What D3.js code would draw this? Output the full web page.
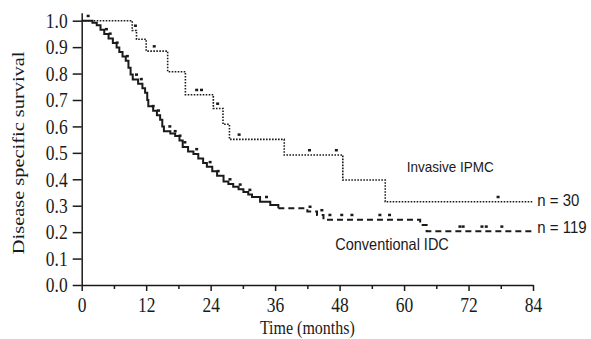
<!DOCTYPE html>
<html>
<head>
<meta charset="utf-8">
<script src="https://cdn.jsdelivr.net/npm/d3@7/dist/d3.min.js"></script>
<style>
  body { margin: 0; background: #fff; }
  svg { display: block; }
</style>
</head>
<body>
<script>
// Invasive IPMC (n = 30): step times (months) and survival after each step
const ipmcTime = [0, 9.4, 10.2, 12.0, 16.0, 19.3, 24.5, 26.3, 27.5, 37.7, 48.6, 56.5, 84];
const ipmcSurv = [1.0, 0.963, 0.930, 0.885, 0.807, 0.720, 0.668, 0.608, 0.551, 0.492, 0.397, 0.315, 0.315];
const ipmcCensor = [10.0, 13.5, 21.4, 22.3, 25.3, 29.3, 42.4, 47.4, 77.5];

// Conventional IDC (n = 119)
const idcTime = [0, 2.0, 2.8, 3.5, 4.2, 5.0, 5.8, 6.5, 7.0, 7.6, 8.2, 8.7, 9.1, 9.5, 10.5, 11.3, 11.8,
  12.2, 12.4, 13.3, 14.0, 14.6, 15.0, 15.3, 16.5, 17.4, 18.2, 18.8, 19.8, 20.8, 21.7, 22.6, 23.3,
  24.3, 25.2, 26.4, 27.3, 28.2, 29.2, 30.1, 31.0, 31.7, 33.2, 35.1, 36.6, 42.0, 43.8, 45.0, 63.0, 64.2, 84];
const idcSurv = [1.0, 0.992, 0.983, 0.966, 0.950, 0.933, 0.916, 0.899, 0.882, 0.865, 0.848, 0.822, 0.796, 0.778, 0.761, 0.744, 0.727,
  0.700, 0.676, 0.659, 0.642, 0.625, 0.600, 0.582, 0.573, 0.564, 0.547, 0.522, 0.505, 0.496, 0.479, 0.462, 0.447,
  0.430, 0.413, 0.392, 0.382, 0.372, 0.362, 0.352, 0.342, 0.333, 0.315, 0.303, 0.290, 0.278, 0.265, 0.247, 0.227, 0.203, 0.203];
const idcCensor = [1.2, 4.6, 5.3, 6.6, 8.5, 10.2, 11.1, 13.3, 14.3, 16.4, 17.4, 18.3, 19.2, 21.4, 23.9, 25.4,
  27.6, 29.5, 31.3, 34.4, 42.5, 44.7, 46.2, 48.4, 50.3, 55.5, 57.3, 70.4, 71.0, 74.5, 75.3, 78.2];
const idcDashFrom = 36.6;

const xTicks = [0, 12, 24, 36, 48, 60, 72, 84];
const xMinor = [6, 18, 30, 42, 54, 66, 78];
const yTicks = [0.0, 0.1, 0.2, 0.3, 0.4, 0.5, 0.6, 0.7, 0.8, 0.9, 1.0];

const W = 591, H = 339;
const ink = "#1a1a1a";
const serif = "'Liberation Serif', 'Times New Roman', serif";
const sans = "'Liberation Sans', Arial, sans-serif";

const svg = d3.select("body").append("svg")
  .attr("width", W)
  .attr("height", H);

const x = d3.scaleLinear().domain([0, 84]).range([81.7, 533]);
// domain runs a little past 1.0 so the axis line sticks up above the top tick
const y = d3.scaleLinear().domain([0, 1.03]).range([285, 285 - 1.03 * 264.3]);

// y axis
svg.append("g")
  .attr("transform", `translate(${x(0)},0)`)
  .call(d3.axisLeft(y).tickValues(yTicks).tickFormat(d3.format(".1f"))
    .tickSize(9).tickSizeOuter(0).tickPadding(5));

// x axis: labelled ticks every 12 months, small ones in between
svg.append("g")
  .attr("transform", `translate(0,${y(0)})`)
  .call(d3.axisBottom(x).tickValues(xTicks).tickSize(6).tickSizeOuter(0).tickPadding(4));

svg.append("g")
  .attr("transform", `translate(0,${y(0)})`)
  .call(d3.axisBottom(x).tickValues(xMinor).tickSize(4).tickFormat(""))
  .select(".domain").remove();

svg.selectAll(".domain, .tick line")
  .attr("stroke", ink)
  .attr("stroke-width", 1.5);

svg.selectAll(".tick text")
  .attr("fill", ink)
  .style("font-family", serif)
  .style("font-size", "17.5px")
  .attr("transform", "scale(1,1.2)");

// axis titles
svg.append("text")
  .attr("transform", `translate(${(x(0) + x(84)) / 2},334) scale(1,1.15)`)
  .attr("text-anchor", "middle")
  .attr("fill", ink)
  .style("font-family", serif)
  .style("font-size", "16px")
  .text("Time (months)");

svg.append("text")
  .attr("transform", `translate(24,${y(0.5)}) rotate(-90) scale(1.2,1)`)
  .attr("text-anchor", "middle")
  .attr("fill", ink)
  .style("font-family", serif)
  .style("font-size", "17px")
  .text("Disease specific survival");

// Kaplan-Meier curves
const stepLine = d3.line()
  .x(d => x(d.t))
  .y(d => y(d.s))
  .curve(d3.curveStepAfter);

const ipmc = ipmcTime.map((t, i) => ({ t: t, s: ipmcSurv[i] }));
const idc = idcTime.map((t, i) => ({ t: t, s: idcSurv[i] }));

function survAt(data, t) {
  let s = data[0].s;
  data.forEach(function (d) { if (d.t <= t) s = d.s; });
  return s;
}

svg.append("path")
  .datum(ipmc)
  .attr("d", stepLine)
  .attr("fill", "none")
  .attr("stroke", ink)
  .attr("stroke-width", 1.6)
  .attr("stroke-dasharray", "1.6,1.4");

svg.append("path")
  .datum(idc.filter(d => d.t <= idcDashFrom))
  .attr("d", stepLine)
  .attr("fill", "none")
  .attr("stroke", ink)
  .attr("stroke-width", 2);

svg.append("path")
  .datum(idc.filter(d => d.t >= idcDashFrom))
  .attr("d", stepLine)
  .attr("fill", "none")
  .attr("stroke", ink)
  .attr("stroke-width", 2)
  .attr("stroke-dasharray", "6,4");

// censor marks, drawn just above the curve
function censorMarks(times, data) {
  svg.append("g").selectAll("rect")
    .data(times)
    .join("rect")
    .attr("x", t => x(t) - 1.5)
    .attr("y", t => y(survAt(data, t)) - 6)
    .attr("width", 3)
    .attr("height", 2.5)
    .attr("fill", ink);
}
censorMarks(ipmcCensor, ipmc);
censorMarks(idcCensor, idc);

// curve labels
function label(txt, tx, sy, font, size) {
  svg.append("text")
    .attr("transform", `translate(${x(tx)},${y(sy)}) scale(1,1.15)`)
    .attr("fill", ink)
    .style("font-family", font)
    .style("font-size", size)
    .text(txt);
}
label("Invasive IPMC", 60.5, 0.4275, sans, "13.5px");
label("Conventional IDC", 47.2, 0.132, sans, "14.5px");
label("n = 30", 84.8, 0.299, sans, "15px");
label("n = 119", 84.8, 0.197, sans, "15px");
</script>
</body>
</html>
